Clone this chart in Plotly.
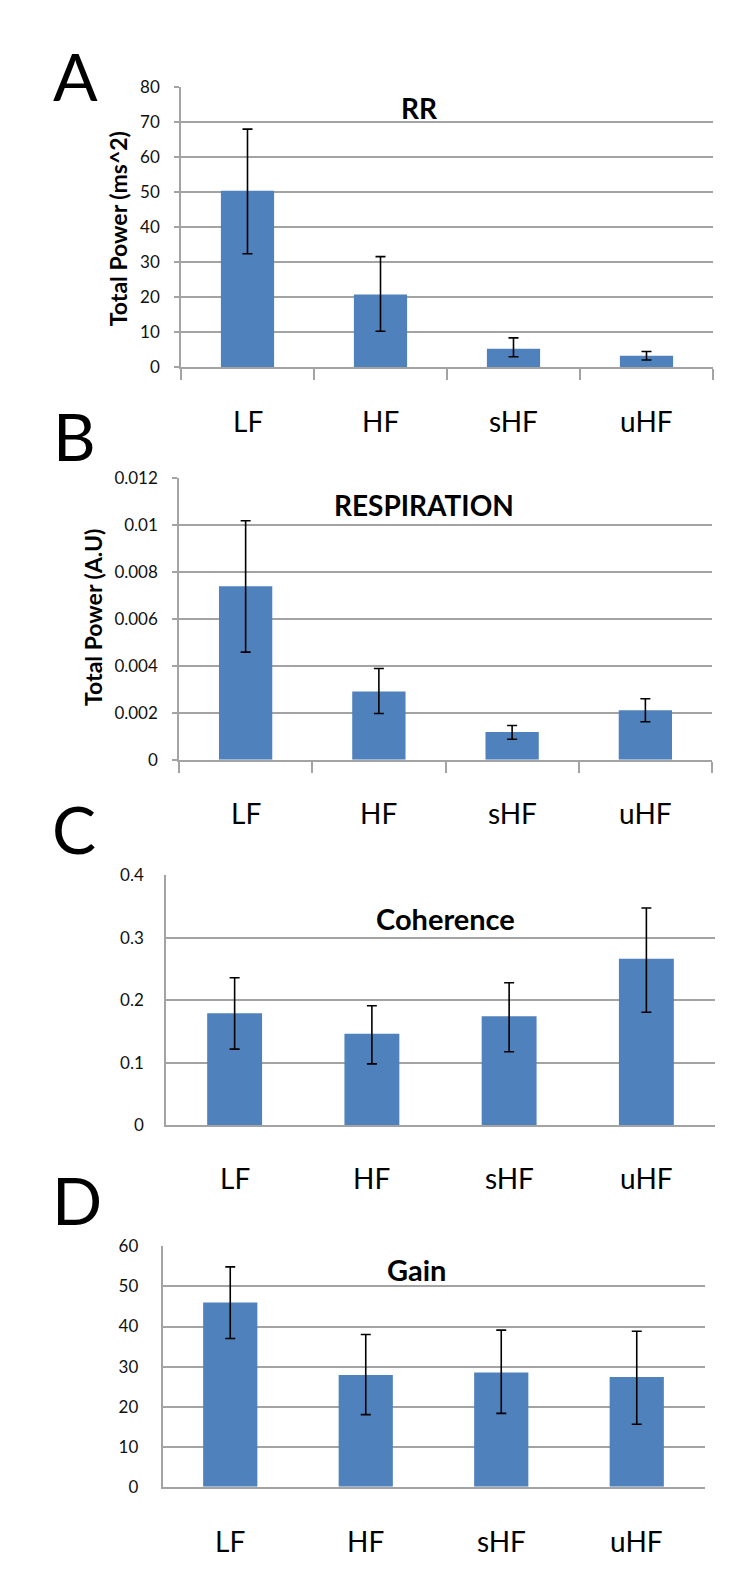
import plotly.graph_objects as go

W, H = 750, 1577

categories = ["LF", "HF", "sHF", "uHF"]

# Panel A: RR
rr_mean = [50.4, 20.8, 5.3, 3.3]
rr_upper = [68.0, 31.6, 8.4, 4.5]
rr_lower = [32.4, 10.3, 3.0, 2.1]

# Panel B: Respiration
resp_mean = [0.0074, 0.00291, 0.00118, 0.00211]
resp_upper = [0.0102, 0.00389, 0.00146, 0.0026]
resp_lower = [0.00459, 0.00197, 0.00087, 0.00162]

# Panel C: Coherence
coh_mean = [0.179, 0.1465, 0.1744, 0.2667]
coh_upper = [0.236, 0.1913, 0.228, 0.3478]
coh_lower = [0.1217, 0.098, 0.1175, 0.1807]

# Panel D: Gain
gain_mean = [46.0, 27.9, 28.5, 27.4]
gain_upper = [54.9, 38.0, 39.1, 38.8]
gain_lower = [37.0, 18.0, 18.3, 15.6]

titles = ["RR", "RESPIRATION", "Coherence", "Gain"]
letters = ["A", "B", "C", "D"]
ylabels = ["Total Power (ms^2)", "Total Power (A.U)", None, None]
yranges = [[0, 80], [0, 0.012], [0, 0.4], [0, 60]]
ydticks = [10, 0.002, 0.1, 10]

BAR = "#4F81BD"
GRID = "#A3A3A3"
FONT = "Lato"


def px_x(x):
    return x / W


def px_y(y):
    return 1 - y / H


# pixel geometry of each panel: (left, right, top, bottom)
boxes = [
    (173, 705, 69, 353),
    (171, 704, 465.7, 750.7),
    (158, 707, 868, 1121),
    (154.5, 696.5, 1244, 1487.5),
]
title_pos = [(411, 90, 28), (416, 493, 28), (437, 912, 29), (408, 1267, 29)]
letter_pos = [(67, 57), (66, 422), (66, 820), (69, 1196)]
label_y = [407, 805, 1175, 1543]
ylabel_pos = [(110, 213), (85, 607)]
has_ticks = [True, True, False, False]
standoff = [11, 11, 17, 19]

data = [
    (rr_mean, rr_upper, rr_lower),
    (resp_mean, resp_upper, resp_lower),
    (coh_mean, coh_upper, coh_lower),
    (gain_mean, gain_upper, gain_lower),
]

fig = go.Figure()
annotations = []
layout = {}

for i, (mean, up, lo) in enumerate(data):
    n = "" if i == 0 else str(i + 1)
    fig.add_trace(go.Bar(
        x=categories, y=mean,
        xaxis="x" + n, yaxis="y" + n,
        marker=dict(color=BAR, line=dict(width=0)),
        width=0.4,
        error_y=dict(
            type="data", symmetric=False,
            array=[u - m for u, m in zip(up, mean)],
            arrayminus=[m - l for m, l in zip(mean, lo)],
            color="#000000", thickness=1.6, width=5,
        ),
        showlegend=False,
    ))
    l, r, t, b = boxes[i]
    xa = dict(
        domain=[px_x(l), px_x(r)],
        anchor="y" + n,
        type="category",
        range=[-0.5, 3.5],
        showticklabels=False,
        showgrid=False,
        showline=True, linecolor=GRID, linewidth=2,
        zeroline=False,
        fixedrange=True,
    )
    if has_ticks[i]:
        xa.update(ticks="outside", tickson="boundaries", ticklen=11,
                  tickcolor=GRID, tickwidth=1.5)
    else:
        xa.update(ticks="")
    ya = dict(
        domain=[px_y(b), px_y(t)],
        anchor="x" + n,
        range=yranges[i],
        dtick=ydticks[i],
        tick0=0,
        showgrid=True, gridcolor=GRID, gridwidth=1.5,
        showline=True, linecolor=GRID, linewidth=1.5,
        zeroline=False,
        tickfont=dict(family=FONT, size=17, color="#111111"),
        ticklabelstandoff=standoff[i],
        fixedrange=True,
    )
    if has_ticks[i]:
        ya.update(ticks="outside", ticklen=5, tickcolor=GRID, tickwidth=1.5)
    else:
        ya.update(ticks="")
    layout["xaxis" + n] = xa
    layout["yaxis" + n] = ya

    # category labels below each panel
    for c in categories:
        annotations.append(dict(
            x=c, xref="x" + n, y=px_y(label_y[i]), yref="paper",
            text=c, showarrow=False, xanchor="center", yanchor="middle",
            font=dict(family=FONT, size=28, color="#000000"),
        ))
    # chart title
    tx, ty, ts = title_pos[i]
    annotations.append(dict(
        x=px_x(tx), y=px_y(ty), xref="paper", yref="paper",
        text="<b>" + titles[i] + "</b>", showarrow=False,
        xanchor="center", yanchor="middle",
        font=dict(family=FONT, size=ts, color="#000000"),
    ))
    # panel letter
    lx, ly = letter_pos[i]
    annotations.append(dict(
        x=px_x(lx), y=px_y(ly), xref="paper", yref="paper",
        text=letters[i], showarrow=False,
        xanchor="center", yanchor="middle",
        font=dict(family=FONT, size=66, color="#000000"),
    ))
    if ylabels[i]:
        yx, yy = ylabel_pos[i]
        annotations.append(dict(
            x=px_x(yx), y=px_y(yy), xref="paper", yref="paper",
            text="<b>" + ylabels[i] + "</b>", showarrow=False,
            textangle=-90, xanchor="center", yanchor="middle",
            font=dict(family=FONT, size=23, color="#000000"),
        ))

fig.update_layout(
    width=W, height=H,
    margin=dict(l=0, r=0, t=0, b=0),
    paper_bgcolor="white", plot_bgcolor="white",
    bargap=0.6,
    annotations=annotations,
    **layout,
)

fig.write_html("out.html")
